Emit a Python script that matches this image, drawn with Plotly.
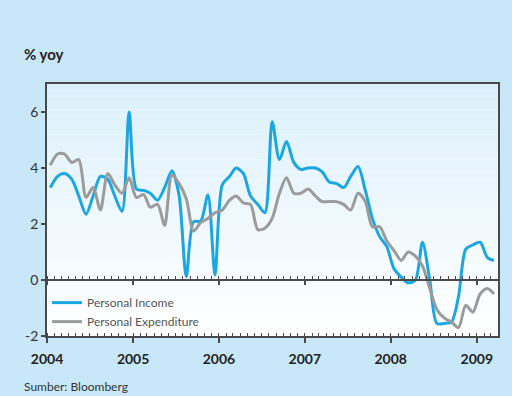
import pandas as pd
import plotly.graph_objects as go

# Monthly data, Jan 2004 - Mar 2009 (% yoy)
months = pd.date_range("2004-01-01", periods=63, freq="MS") + pd.Timedelta(days=14)

personal_income = [
    3.3, 3.7, 3.8, 3.6, 3.0, 2.35, 3.0, 3.7, 3.6, 3.0, 2.45, 6.0,
    3.25, 3.2, 3.1, 2.85, 3.3, 3.9, 3.05, 0.12, 2.08, 2.1, 3.04, 0.18,
    3.4, 3.7, 4.0, 3.8, 3.0, 2.7, 2.4, 5.65, 4.3, 4.95, 4.2, 3.95,
    4.0, 4.0, 3.87, 3.5, 3.45, 3.3, 3.7, 4.05, 3.2, 2.2, 1.55, 1.2,
    0.4, 0.1, -0.1, 0.0, 1.35, 0.0, -1.55, -1.55, -1.5, -0.6, 1.1, 1.25,
    1.35, 0.8, 0.7,
]
personal_expenditure = [
    4.1, 4.5, 4.5, 4.2, 4.3, 2.95, 3.3, 2.5, 3.8, 3.4, 3.1, 3.65,
    2.95, 3.05, 2.6, 2.7, 1.95, 3.75, 3.45, 2.9, 1.75, 2.05, 2.2, 2.4,
    2.5, 2.85, 3.0, 2.75, 2.7, 1.8, 1.85, 2.2, 3.1, 3.65, 3.1, 3.1,
    3.25, 3.0, 2.8, 2.8, 2.8, 2.7, 2.5, 3.1, 2.8, 1.9, 1.9, 1.4,
    1.05, 0.7, 1.0, 0.85, 0.5, -0.3, -1.05, -1.35, -1.5, -1.7, -0.9, -1.15,
    -0.5, -0.3, -0.5,
]
series_names = ["Personal Income", "Personal Expenditure"]
y_ticks = [-2, 0, 2, 4, 6]
y_tick_labels = ["-2", "0", "2", "4", "6"]

FONT = "Lato"
BLUE = "#1AA7E1"
GRAY = "#9B9B9B"
AXIS = "#4A4A4A"

fig = go.Figure()
fig.add_trace(go.Scatter(x=months, y=personal_income, name=series_names[0], mode="lines",
                         line=dict(color=BLUE, width=3, shape="spline", smoothing=0.8)))
fig.add_trace(go.Scatter(x=months, y=personal_expenditure, name=series_names[1], mode="lines",
                         line=dict(color=GRAY, width=3, shape="spline", smoothing=0.8)))

# gradient plot background
N = 40
top = (220, 240, 251)
bot = (255, 255, 255)
shapes = []
for i in range(N):
    t = i / (N - 1)
    c = tuple(round(top[k] + (bot[k] - top[k]) * t) for k in range(3))
    shapes.append(dict(type="rect", xref="x domain", yref="y domain",
                       x0=0, x1=1, y0=1 - (i + 1) / N, y1=1 - i / N,
                       fillcolor="rgb(%d,%d,%d)" % c, line=dict(width=0), layer="below"))

W = 512 - 47 - 14
H = 396 - 84 - 60

xrange = ["2004-01-01", "2009-04-01"]
fig.update_layout(
    width=512, height=396,
    margin=dict(l=47, r=14, t=84, b=60),
    paper_bgcolor="#C8E8F9",
    plot_bgcolor="#FFFFFF",
    shapes=shapes,
    showlegend=True,
    legend=dict(x=0.0, y=0.19, xanchor="left", yanchor="top",
                bgcolor="rgba(0,0,0,0)", font=dict(family=FONT, size=12, color="#555555"),
                tracegroupgap=0),
    xaxis=dict(type="date", range=xrange, tick0="2004-01-01", dtick="M12", tickformat="%Y",
               showgrid=False, zeroline=False, showline=True, linecolor=AXIS, linewidth=1.5,
               mirror=True, ticks="outside", ticklen=5, tickcolor=AXIS, tickwidth=1.5,
               ticklabelstandoff=4,
               tickfont=dict(family=FONT, size=14, color="#222222", weight="bold"),
               minor=dict(dtick="M1", ticks="inside", ticklen=3, tickcolor=AXIS, tickwidth=1)),
    xaxis2=dict(type="date", range=xrange, overlaying="x", anchor="free", position=2 / 9,
                tick0="2004-01-01", dtick="M12", showticklabels=False, showgrid=False,
                zeroline=False, showline=True, linecolor=AXIS, linewidth=1.5,
                ticks="outside", ticklen=4, tickcolor=AXIS, tickwidth=1.5,
                minor=dict(dtick="M1", ticks="inside", ticklen=3, tickcolor=AXIS, tickwidth=1)),
    yaxis=dict(range=[-2, 7], tickvals=y_ticks, ticktext=y_tick_labels, showgrid=False,
               zeroline=False, showline=True, linecolor=AXIS, linewidth=1.5, mirror=True,
               ticks="outside", ticklen=4, tickcolor=AXIS, tickwidth=1.5,
               tickfont=dict(family=FONT, size=14, color="#333333")),
    annotations=[
        dict(text="<b>% yoy</b>", x=(22 - 47) / W, y=(336 - 54) / H, xref="paper", yref="paper",
             xanchor="left", yanchor="middle", showarrow=False,
             font=dict(family=FONT, size=15, color="#222222")),
        dict(text="Sumber: Bloomberg", x=(22 - 47) / W, y=(336 - 386) / H, xref="paper",
             yref="paper", xanchor="left", yanchor="middle", showarrow=False,
             font=dict(family=FONT, size=12, color="#333333")),
    ],
)

# invisible trace on xaxis2 so the zero-line axis renders
fig.add_trace(go.Scatter(x=[months[0]], y=[None], xaxis="x2", showlegend=False, hoverinfo="skip"))

fig.write_html("out.html")
